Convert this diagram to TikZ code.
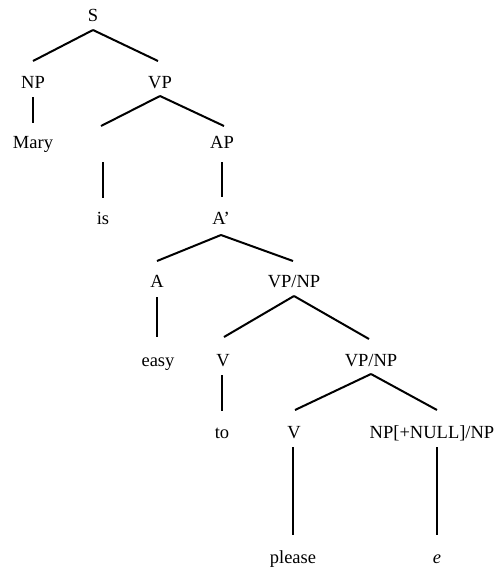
\documentclass[tikz,border=0pt]{standalone}
\usepackage{fontspec}
\setmainfont{Liberation Serif}
\usetikzlibrary{calc}
\begin{document}
\begin{tikzpicture}[x=0.5pt,y=-0.5pt,
  lab/.style={anchor=base,inner sep=0pt,font=\fontsize{9.25}{11}\selectfont},
  br/.style={line width=1pt,line cap=butt}]
\useasboundingbox (0,0) rectangle (495,568);
% nodes
\node[lab] (S) at (93,21) {S};
\node[lab] (NP) at (33,88) {NP};
\node[lab] (VP) at (160,88) {VP};
\node[lab] (Mary) at (33,148) {Mary};
\coordinate (Vx) at (102,148);
\node[lab] (AP) at (222,148) {AP};
\node[lab] (is) at (103,224) {is};
\node[lab] (Abar) at (221,224) {A'};
\node[lab] (A) at (157,287) {A};
\node[lab] (VPNP) at (294,287) {VP/NP};
\node[lab] (easy) at (158,366) {easy};
\node[lab] (V) at (223,366) {V};
\node[lab] (VPNPb) at (371,366) {VP/NP};
\node[lab] (to) at (222,438) {to};
\node[lab] (Vb) at (294,438) {V};
\node[lab] (NPN) at (432,438) {NP[+NULL]/NP};
\node[lab] (please) at (293,563) {please};
\node[lab] (e) at (437,563) {\itshape e};
% edges
\draw[br] ($(S.base)+(0,9)$) -- ($(NP.base)+(0,-27)$);
\draw[br] ($(S.base)+(0,9)$) -- ($(VP.base)+(-2,-27)$);
\draw[br] ($(NP.base)+(0,9)$) -- ($(Mary.base)+(0,-25)$);
\draw[br] ($(VP.base)+(0,8)$) -- ($(Vx)+(-1,-22)$);
\draw[br] ($(VP.base)+(0,8)$) -- ($(AP.base)+(2,-22)$);
\draw[br] ($(Vx)+(1,14)$) -- ($(is.base)+(0,-26)$);
\draw[br] ($(AP.base)+(0,14)$) -- ($(Abar.base)+(1,-27)$);
\draw[br] ($(Abar.base)+(0,11)$) -- ($(A.base)+(0,-26)$);
\draw[br] ($(Abar.base)+(0,11)$) -- ($(VPNP.base)+(-1,-26)$);
\draw[br] ($(A.base)+(0,10)$) -- ($(easy.base)+(-1,-29)$);
\draw[br] ($(VPNP.base)+(0,9)$) -- ($(V.base)+(1,-29)$);
\draw[br] ($(VPNP.base)+(0,9)$) -- ($(VPNPb.base)+(-2,-27)$);
\draw[br] ($(V.base)+(-1,9)$) -- ($(to.base)+(0,-27)$);
\draw[br] ($(VPNPb.base)+(0,8)$) -- ($(Vb.base)+(1,-28)$);
\draw[br] ($(VPNPb.base)+(0,8)$) -- ($(NPN.base)+(5,-28)$);
\draw[br] ($(Vb.base)+(-1,9)$) -- ($(please.base)+(0,-28)$);
\draw[br] ($(NPN.base)+(5,9)$) -- ($(e.base)+(0,-28)$);
\end{tikzpicture}
\end{document}
